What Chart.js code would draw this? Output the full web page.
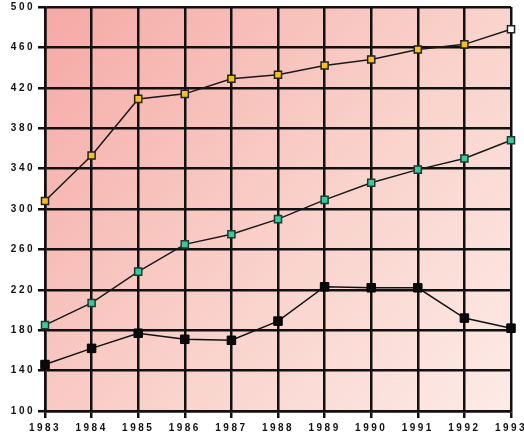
<!DOCTYPE html>
<html>
<head>
<meta charset="utf-8">
<script src="https://cdn.jsdelivr.net/npm/chart.js@4/dist/chart.umd.min.js"></script>
<style>
  html, body { margin: 0; padding: 0; background: #fff; }
  #wrap { width: 524px; height: 440px; }
</style>
</head>
<body>
<div id="wrap"><canvas id="line"></canvas></div>
<script>
var years = ['1983', '1984', '1985', '1986', '1987', '1988', '1989', '1990', '1991', '1992', '1993'];
var topSeries = [308, 353, 409, 414, 429, 433, 442, 448, 458, 463, 478];
var midSeries = [185, 207, 238, 265, 275, 290, 309, 326, 339, 350, 368];
var lowSeries = [146, 162, 177, 171, 170, 189, 223, 222, 222, 192, 182];
var yMin = 100, yMax = 500, yStep = 40;

// pink paper behind the grid
var paper = {
	id: 'paper',
	beforeDraw: function (chart) {
		var c = chart.ctx, a = chart.chartArea;
		c.letterSpacing = '2.5px';
		var g = c.createLinearGradient(a.left, a.top, a.right, a.bottom);
		g.addColorStop(0, '#f5a9a6');
		g.addColorStop(0.5, '#f9cfc8');
		g.addColorStop(1, '#fdebe7');
		c.save();
		c.fillStyle = g;
		c.fillRect(a.left, a.top, a.right - a.left, a.bottom - a.top);
		c.restore();
	}
};

var ctx = document.getElementById('line');

var line = new Chart(ctx, {
	type: 'line',
	data: {
		labels: years,
		datasets: [
			{
				data: topSeries,
				borderColor: '#1a1a1a',
				borderWidth: 1.5,
				pointStyle: 'rect',
				pointRadius: 5,
				pointBorderWidth: 1.5,
				pointBorderColor: '#222',
				pointBackgroundColor: topSeries.map((v, i) => i === topSeries.length - 1 ? '#ffffff' : '#f3c21c')
			},
			{
				data: midSeries,
				borderColor: '#1a1a1a',
				borderWidth: 1.5,
				pointStyle: 'rect',
				pointRadius: 5,
				pointBorderWidth: 1.5,
				pointBorderColor: '#1d3b30',
				pointBackgroundColor: '#3cc89c'
			},
			{
				data: lowSeries,
				borderColor: '#111',
				borderWidth: 1.5,
				pointStyle: 'rect',
				pointRadius: 6,
				pointBorderWidth: 1,
				pointBorderColor: '#000',
				pointBackgroundColor: '#0a0a0a'
			}
		]
	},
	options: {
		responsive: true,
		maintainAspectRatio: false,
		animation: false,
		layout: { padding: { top: 7, right: 13, left: 0, bottom: 0 } },
		plugins: {
			legend: { display: false },
			tooltip: { enabled: false }
		},
		scales: {
			x: {
				offset: false,
				grid: { color: '#111', lineWidth: 2.5, tickLength: 7, tickColor: '#111' },
				border: { color: '#111', width: 2.5 },
				ticks: {
					color: '#111',
					padding: 4,
					maxRotation: 0,
					autoSkip: false,
					font: { family: 'Liberation Sans', size: 10, weight: 'bold' }
				},
				afterFit: function (s) { s.height = 29; s.paddingLeft = 0; s.paddingRight = 0; }
			},
			y: {
				min: yMin,
				max: yMax,
				grid: { color: '#111', lineWidth: 2.5, tickLength: 7, tickColor: '#111' },
				border: { color: '#111', width: 2.5 },
				ticks: {
					stepSize: yStep,
					color: '#111',
					padding: 3,
					font: { family: 'Liberation Sans', size: 10, weight: 'bold' }
				},
				afterFit: function (s) { s.width = 45; s.paddingTop = 0; s.paddingBottom = 0; }
			}
		}
	},
	plugins: [paper]
});
</script>
</body>
</html>
